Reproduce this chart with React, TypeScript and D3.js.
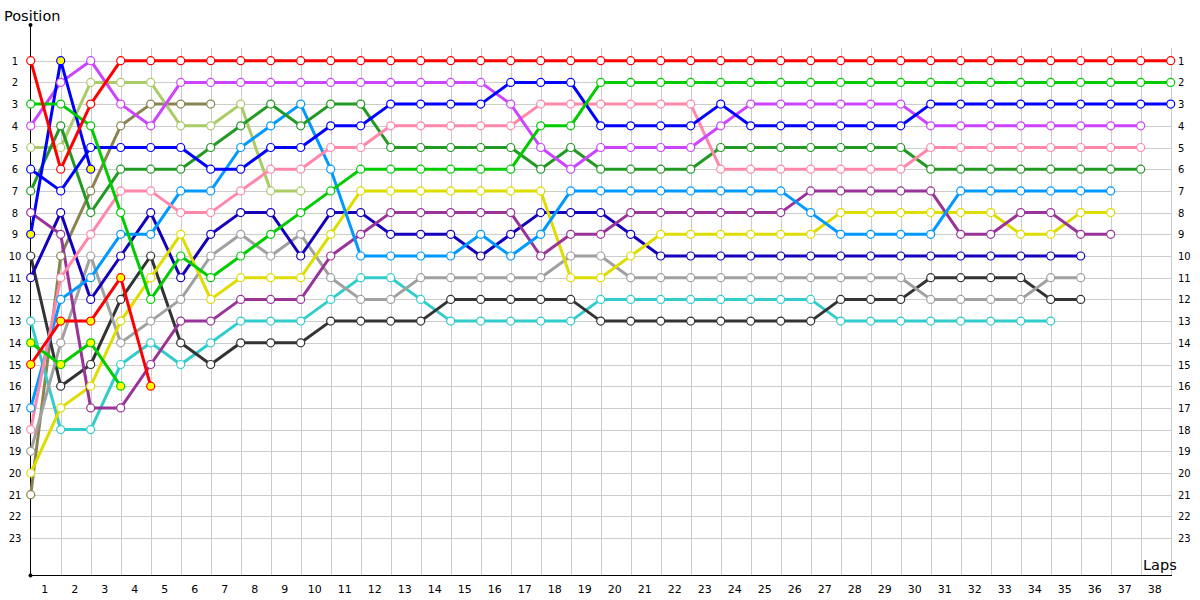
import React from "react";
import * as d3 from "d3";

// ---- data: position of each driver after each lap (lap 0 = grid) ----
const lapTickLabels = d3.range(1, 39).map(String);
const positionLabels = d3.range(1, 24).map(String);

const red = [1, 6, 3, 1, 1, 1, 1, 1, 1, 1, 1, 1, 1, 1, 1, 1, 1, 1, 1, 1, 1, 1, 1, 1, 1, 1, 1, 1, 1, 1, 1, 1, 1, 1, 1, 1, 1, 1, 1];
const green = [3, 3, 4, 8, 12, 10, 11, 10, 9, 8, 7, 6, 6, 6, 6, 6, 6, 4, 4, 2, 2, 2, 2, 2, 2, 2, 2, 2, 2, 2, 2, 2, 2, 2, 2, 2, 2, 2, 2];
const blue = [6, 7, 5, 5, 5, 5, 6, 6, 5, 5, 4, 4, 3, 3, 3, 3, 2, 2, 2, 4, 4, 4, 4, 3, 4, 4, 4, 4, 4, 4, 3, 3, 3, 3, 3, 3, 3, 3, 3];
const violet = [4, 2, 1, 3, 4, 2, 2, 2, 2, 2, 2, 2, 2, 2, 2, 2, 3, 5, 6, 5, 5, 5, 5, 4, 3, 3, 3, 3, 3, 3, 4, 4, 4, 4, 4, 4, 4, 4];
const pink = [18, 11, 9, 7, 7, 8, 8, 7, 6, 6, 5, 5, 4, 4, 4, 4, 4, 3, 3, 3, 3, 3, 3, 6, 6, 6, 6, 6, 6, 6, 5, 5, 5, 5, 5, 5, 5, 5];
const darkGreen = [7, 4, 8, 6, 6, 6, 5, 4, 3, 4, 3, 3, 5, 5, 5, 5, 5, 6, 5, 6, 6, 6, 6, 5, 5, 5, 5, 5, 5, 5, 6, 6, 6, 6, 6, 6, 6, 6];
const lightBlue = [17, 12, 11, 9, 9, 7, 7, 5, 4, 3, 6, 10, 10, 10, 10, 9, 10, 9, 7, 7, 7, 7, 7, 7, 7, 7, 8, 9, 9, 9, 9, 7, 7, 7, 7, 7, 7];
const purple = [8, 9, 17, 17, 15, 13, 13, 12, 12, 12, 10, 9, 8, 8, 8, 8, 8, 10, 9, 9, 8, 8, 8, 8, 8, 8, 7, 7, 7, 7, 7, 9, 9, 8, 8, 9, 9];
const yellow = [20, 17, 16, 13, 11, 9, 12, 11, 11, 11, 9, 7, 7, 7, 7, 7, 7, 7, 11, 11, 10, 9, 9, 9, 9, 9, 9, 8, 8, 8, 8, 8, 8, 9, 9, 8, 8];
const navy = [11, 8, 12, 10, 8, 11, 9, 8, 8, 10, 8, 8, 9, 9, 9, 10, 9, 8, 8, 8, 9, 10, 10, 10, 10, 10, 10, 10, 10, 10, 10, 10, 10, 10, 10, 10];
const grey = [19, 14, 10, 14, 13, 12, 10, 9, 10, 9, 11, 12, 12, 11, 11, 11, 11, 11, 10, 10, 11, 11, 11, 11, 11, 11, 11, 11, 11, 11, 12, 12, 12, 12, 11, 11];
const darkGrey = [10, 16, 15, 12, 10, 14, 15, 14, 14, 14, 13, 13, 13, 13, 12, 12, 12, 12, 12, 13, 13, 13, 13, 13, 13, 13, 13, 12, 12, 12, 11, 11, 11, 11, 12, 12];
const cyan = [13, 18, 18, 15, 14, 15, 14, 13, 13, 13, 12, 11, 11, 12, 13, 13, 13, 13, 13, 12, 12, 12, 12, 12, 12, 12, 12, 13, 13, 13, 13, 13, 13, 13, 13];
const lightOlive = [5, 5, 2, 2, 2, 4, 4, 3, 7, 7];
const olive = [21, 10, 7, 4, 3, 3, 3];
const blueB = [9, 1, 6];
const greenB = [14, 15, 14, 16];
const redB = [15, 13, 13, 11, 16];

const drivers = [
  { name: "olive", values: olive, color: "#8a8450", fill: "#ffffff" },
  { name: "lightOlive", values: lightOlive, color: "#aacc66", fill: "#ffffff" },
  { name: "cyan", values: cyan, color: "#33cccc", fill: "#ffffff" },
  { name: "darkGrey", values: darkGrey, color: "#333333", fill: "#ffffff" },
  { name: "grey", values: grey, color: "#a0a0a0", fill: "#ffffff" },
  { name: "navy", values: navy, color: "#1400bb", fill: "#ffffff" },
  { name: "yellow", values: yellow, color: "#dddd00", fill: "#ffffff" },
  { name: "purple", values: purple, color: "#993399", fill: "#ffffff" },
  { name: "lightBlue", values: lightBlue, color: "#0099ff", fill: "#ffffff" },
  { name: "darkGreen", values: darkGreen, color: "#229922", fill: "#ffffff" },
  { name: "pink", values: pink, color: "#ff88aa", fill: "#ffffff" },
  { name: "violet", values: violet, color: "#cc44ff", fill: "#ffffff" },
  { name: "greenB", values: greenB, color: "#00cc00", fill: "#ffff00" },
  { name: "redB", values: redB, color: "#ff0000", fill: "#ffff00" },
  { name: "blueB", values: blueB, color: "#0000ff", fill: "#ffff00" },
  { name: "blue", values: blue, color: "#0000ff", fill: "#ffffff" },
  { name: "green", values: green, color: "#00cc00", fill: "#ffffff" },
  { name: "red", values: red, color: "#ff0000", fill: "#ffffff" },
];

const W = 1200;
const H = 600;

export default function App() {
  const x = d3.scaleLinear().domain([0, 38]).range([30.7, 1170.7]);
  const y = d3.scaleLinear().domain([1, 23]).range([60.7, 538.1]);
  const axisY = 575;
  const font = "'DejaVu Sans', Verdana, sans-serif";
  const line = d3
    .line<number>()
    .x((_, i) => x(i))
    .y((d) => y(d));

  return (
    <svg
      width={W}
      height={H}
      style={{ position: "absolute", left: 0, top: 0, background: "#fff" }}
    >
      {/* grid */}
      <g shapeRendering="crispEdges">
        {d3.range(1, 24).map((p) => (
          <line
            key={"h" + p}
            x1={x(0)}
            x2={x(38)}
            y1={Math.round(y(p)) + 0.5}
            y2={Math.round(y(p)) + 0.5}
            stroke="#cccccc"
          />
        ))}
        {d3.range(1, 39).map((l) => (
          <line
            key={"v" + l}
            x1={Math.round(x(l)) + 0.5}
            x2={Math.round(x(l)) + 0.5}
            y1={48}
            y2={axisY}
            stroke="#cccccc"
          />
        ))}
      </g>
      {/* axes */}
      <line x1={30.5} x2={30.5} y1={25} y2={axisY} stroke="#000" />
      <line x1={30.5} x2={1172} y1={axisY + 0.5} y2={axisY + 0.5} stroke="#000" />
      <circle cx={30.5} cy={25} r={2} fill="#000" />
      <circle cx={30.5} cy={axisY + 0.5} r={2} fill="#000" />
      <text x={4} y={21} fontFamily={font} fontSize={14.5} fill="#000">
        Position
      </text>
      <text x={1143} y={570} fontFamily={font} fontSize={14.5} fill="#000">
        Laps
      </text>
      {positionLabels.map((t, i) => (
        <g key={"pl" + t}>
          <text
            x={15}
            y={y(i + 1) + 4}
            textAnchor="middle"
            fontFamily={font}
            fontSize={10}
            fill="#000"
          >
            {t}
          </text>
          <text
            x={1178}
            y={y(i + 1) + 4}
            textAnchor="start"
            fontFamily={font}
            fontSize={10}
            fill="#000"
          >
            {t}
          </text>
        </g>
      ))}
      {lapTickLabels.map((t, i) => (
        <text
          key={"xl" + t}
          x={x(i + 1) - 16}
          y={593}
          textAnchor="middle"
          fontFamily={font}
          fontSize={11}
          fill="#000"
        >
          {t}
        </text>
      ))}
      {/* lines */}
      {drivers.map((d) => (
        <path
          key={"l" + d.name}
          d={line(d.values) || ""}
          fill="none"
          stroke={d.color}
          strokeWidth={3}
          strokeLinejoin="round"
        />
      ))}
      {/* markers */}
      {drivers.map((d) => (
        <g key={"m" + d.name}>
          {d.values.map((v, i) => (
            <circle
              key={i}
              cx={x(i)}
              cy={y(v)}
              r={4}
              fill={d.fill}
              stroke={d.color}
              strokeWidth={1.2}
            />
          ))}
        </g>
      ))}
    </svg>
  );
}
